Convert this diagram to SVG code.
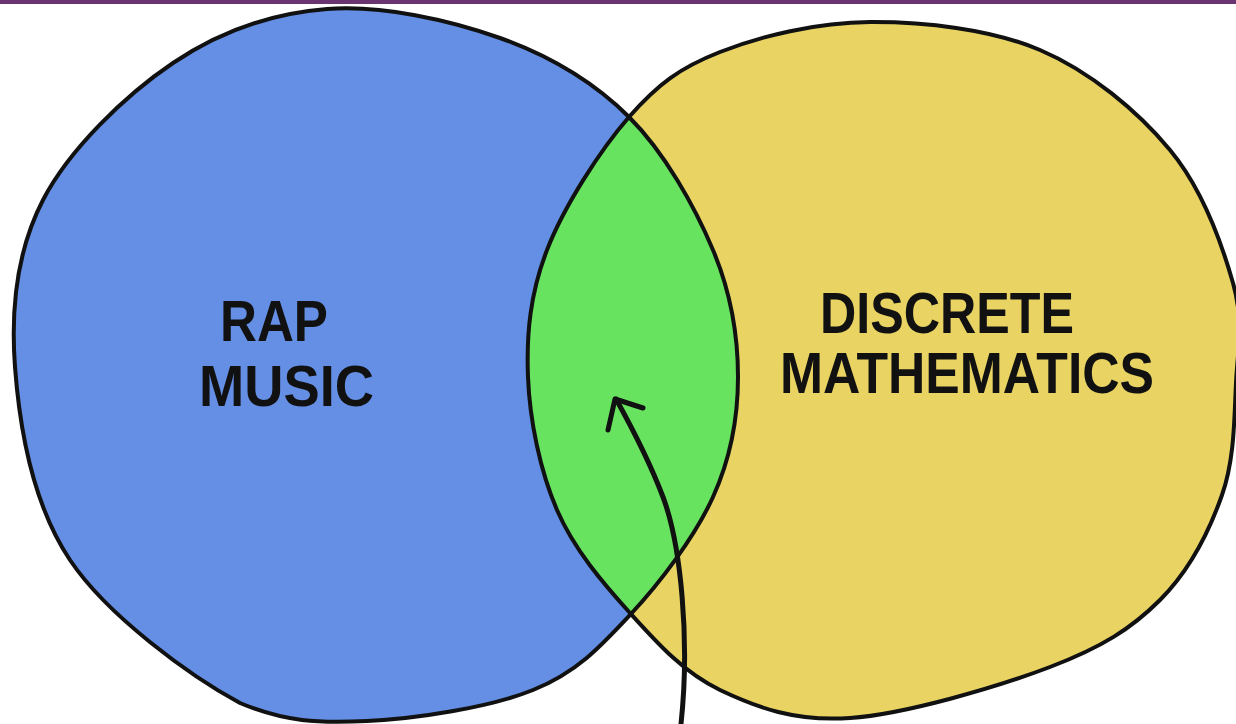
<svg xmlns="http://www.w3.org/2000/svg" width="1236" height="724" viewBox="0 0 1236 724">
<defs>
<style>
.outline{fill:none;stroke:#111;stroke-width:4;stroke-linejoin:round}
.lbl{font-family:"Liberation Sans",Arial,sans-serif;font-weight:bold;font-size:58px;fill:#111}
.arrow{fill:none;stroke:#111;stroke-width:5;stroke-linecap:round;stroke-linejoin:round}
</style>
<path id="blueShape" d="M15,367 C10.5,307 16.7,250.7 43,200 C69.3,149.3 125.7,94.8 173,63 C220.3,31.2 272.5,13.2 327,9 C381.5,4.8 449.7,20 500,38 C550.3,56 593.5,81.7 629,117 C664.5,152.3 694.8,206.7 713,250 C731.2,293.3 738,335.8 738,377 C738,418.2 731,457.3 713,497 C695,536.7 660,582.8 630,615 C600,647.2 576.8,672.3 533,690 C489.2,707.7 415.8,718.8 367,721 C318.2,723.2 285,722 240,703 C190.5,676.2 107.5,616 70,560 C32.5,504 19.5,427 15,367 Z"/>
<path id="yellowShape" d="M528,377 C526.3,333.7 530.2,293.3 547,250 C563.8,206.7 600.2,150 629,117 C657.8,84 679.8,67.8 720,52 C760.2,36.2 816.7,22.3 870,22 C923.3,21.7 990,28.7 1040,50 C1090,71.3 1137.8,111.2 1170,150 C1202.2,188.8 1222,244.2 1233,283 C1244,321.8 1237.8,347.7 1236,383 C1234.2,418.3 1234.7,458.8 1222,495 C1209.3,531.2 1188.7,571.3 1160,600 C1131.3,628.7 1101.7,647.3 1050,667 C998.3,686.7 905,714.2 850,718 C795,721.8 756.7,707.5 720,690 C683.3,672.5 657.2,643 630,613 C602.8,583 574,549.3 557,510 C540,470.7 529.7,420.3 528,377 Z"/>
<clipPath id="blueClip"><use href="#blueShape"/></clipPath>
</defs>
<rect x="0" y="0" width="1236" height="724" fill="#ffffff"/>
<rect x="0" y="0" width="1236" height="4" fill="#6b3470"/>
<g id="rap-music">
<use href="#blueShape" fill="#648fe5"/>
<text class="lbl" x="220" y="341" textLength="108" lengthAdjust="spacingAndGlyphs">RAP</text>
<text class="lbl" x="199" y="406" textLength="175" lengthAdjust="spacingAndGlyphs">MUSIC</text>
</g>
<g id="discrete-mathematics">
<use href="#yellowShape" fill="#e8d363"/>
<text class="lbl" x="820" y="333" textLength="254" lengthAdjust="spacingAndGlyphs">DISCRETE</text>
<text class="lbl" x="780" y="393" textLength="374" lengthAdjust="spacingAndGlyphs">MATHEMATICS</text>
</g>
<g id="intersection">
<use href="#yellowShape" fill="#67e35f" clip-path="url(#blueClip)"/>
</g>
<g id="outlines">
<use href="#blueShape" class="outline"/>
<use href="#yellowShape" class="outline"/>
</g>
<g id="connectors">
<path class="arrow" d="M681,724 C690,640 681,545 663,497 C649,460 631,426 616,399"/>
<polyline class="arrow" points="608,430 615,399 643,408" stroke-width="6"/>
</g>
</svg>
